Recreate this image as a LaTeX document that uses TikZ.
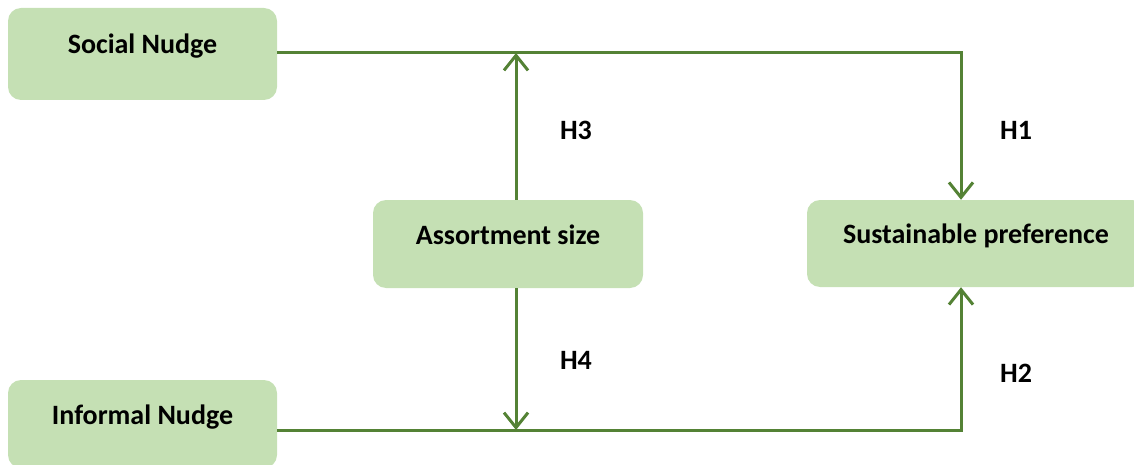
\documentclass[tikz,border=0pt]{standalone}
\usepackage{fontspec}
\setmainfont{Carlito}
\usetikzlibrary{arrows.meta}
\definecolor{boxfill}{HTML}{C5E0B4}
\definecolor{linegreen}{HTML}{548235}

\tikzset{
  box/.style={fill=boxfill, rounded corners=13pt, inner sep=0pt,
    font=\fontsize{28}{34}\selectfont\bfseries, text height=14pt, text depth=14pt},
  link/.style={draw=linegreen, line width=3pt, -{Straight Barb[length=15pt,width=24pt,line width=3pt]}},
  hyp/.style={font=\fontsize{28}{34}\selectfont\bfseries}
}

\begin{document}
\begin{tikzpicture}[x=1pt, y=-1pt]
    \useasboundingbox (0,0) rectangle (1134,465);

	\node[box, minimum width=269pt, minimum height=92pt] (social) at (142.5,54) {Social Nudge};
	\node[box, minimum width=269pt, minimum height=88pt] (informal) at (142.5,424) {Informal Nudge};
	\node[box, minimum width=270pt, minimum height=88pt] (assort) at (508,244) {Assortment size};
	\node[box, minimum width=338pt, minimum height=87pt] (sustain) at (976,243.5) {Sustainable preference};

    % junctions on the two long lines
    \coordinate (topjoin) at (516,53);
    \coordinate (botjoin) at (516,430);

    \draw[link] ([yshift=1pt]social.east) -| ([xshift=-15pt]sustain.north);
    \draw[link] ([yshift=-6pt]informal.east) -| ([xshift=-15pt]sustain.south);
    \draw[link] ([xshift=8pt]assort.north) -- (topjoin);
    \draw[link] ([xshift=8pt]assort.south) -- (botjoin);

	\node[hyp] (h1) at (1016,130) {H1};
	\node[hyp] (h2) at (1016,373) {H2};
	\node[hyp] (h3) at (576,130) {H3};
	\node[hyp] (h4) at (576,360) {H4};
\end{tikzpicture}
\end{document}
